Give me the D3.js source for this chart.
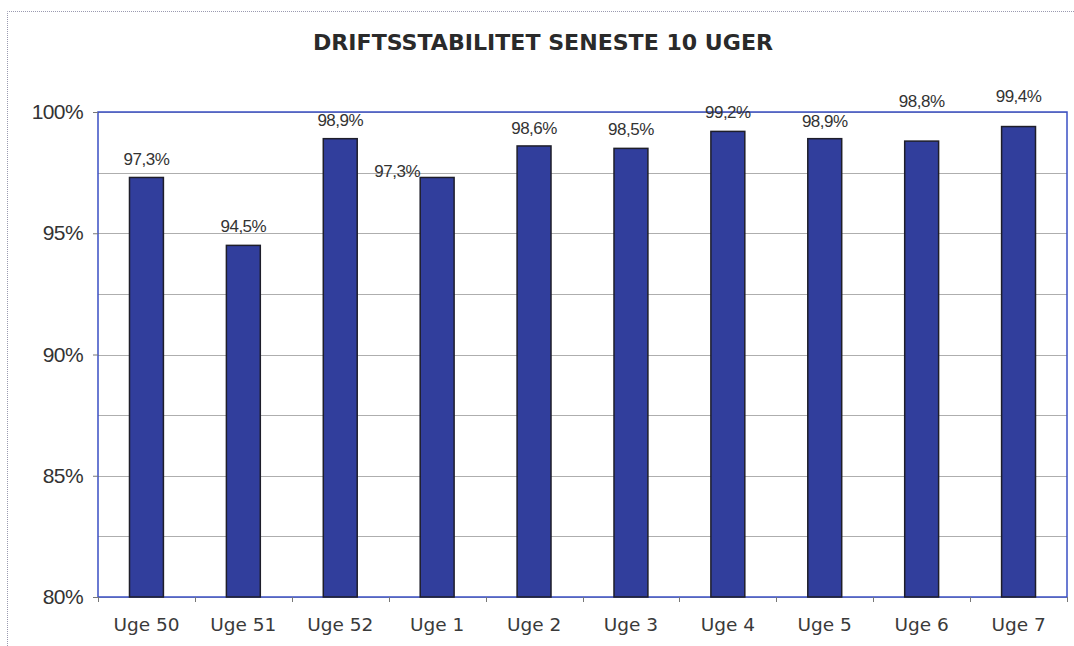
<!DOCTYPE html>
<html>
<head>
<meta charset="utf-8">
<script src="https://cdn.jsdelivr.net/npm/d3@7"></script>
<style>
  body { margin: 0; background: #fff; }
  svg { display: block; }
</style>
</head>
<body>
<div id="chart-area"></div>
<script>
// data
const weeks = ["Uge 50", "Uge 51", "Uge 52", "Uge 1", "Uge 2", "Uge 3", "Uge 4", "Uge 5", "Uge 6", "Uge 7"];
const stability = [97.3, 94.5, 98.9, 97.3, 98.6, 98.5, 99.2, 98.9, 98.8, 99.4];
const yTicks = [80, 85, 90, 95, 100];
const gridValues = [80, 82.5, 85, 87.5, 90, 92.5, 95, 97.5, 100];
const title = "DRIFTSSTABILITET SENESTE 10 UGER";

// label nudges (the labels were dragged around in the original sheet)
const labelShift = [[0, -12], [0, -13], [0, -13], [-40, 0], [0, -12], [0, -13], [0, -13], [0, -12], [0, -34], [0, -25]];

const svgWidth = 1074, svgHeight = 646;
const plot = {left: 98, right: 1067, top: 112, bottom: 597};

const svg = d3.select("#chart-area")
    .append("svg")
    .attr("width", svgWidth)
    .attr("height", svgHeight);

// danish number format
const da = d3.formatLocale({decimal: ",", thousands: ".", grouping: [3], currency: ["", " kr."]});
const fmtLabel = function(v){ return da.format(".1f")(v) + "%"; };

// scales
const xScale = d3.scaleBand()
    .domain(weeks)
    .range([plot.left, plot.right])
    .paddingInner(0.65)
    .paddingOuter(0.325);
const yScale = d3.scaleLinear()
    .domain([80, 100])
    .range([plot.bottom, plot.top]);

// outer chart frame (dotted)
svg.append("path")
    .attr("d", "M7.5," + svgHeight + "V11.5H" + svgWidth)
    .attr("fill", "none")
    .attr("stroke", "#9a9ab0")
    .attr("stroke-width", 1)
    .attr("stroke-dasharray", "1,1");

// title
svg.append("text")
    .attr("x", 543)
    .attr("y", 50)
    .attr("text-anchor", "middle")
    .attr("font-family", "'DejaVu Sans', Verdana, sans-serif")
    .attr("font-weight", "bold")
    .attr("font-size", "22px")
    .attr("fill", "#2a2a2a")
    .attr("textLength", 460)
    .attr("lengthAdjust", "spacingAndGlyphs")
    .text(title);

// gridlines
svg.append("g")
    .selectAll("line")
    .data(gridValues)
    .enter()
    .append("line")
    .attr("x1", plot.left)
    .attr("x2", plot.right)
    .attr("y1", function(d){ return Math.round(yScale(d)) + 0.5; })
    .attr("y2", function(d){ return Math.round(yScale(d)) + 0.5; })
    .attr("stroke", "#999")
    .attr("stroke-width", 0.8);

// plot border
svg.append("rect")
    .attr("x", plot.left)
    .attr("y", plot.top)
    .attr("width", plot.right - plot.left)
    .attr("height", plot.bottom - plot.top)
    .attr("fill", "none")
    .attr("stroke", "#3a4fc4")
    .attr("stroke-width", 1.5);

// y axis
const yAxisCall = d3.axisLeft(yScale)
    .tickValues(yTicks)
    .tickSize(5)
    .tickPadding(10)
    .tickFormat(function(d){ return d + "%"; });
const yAxis = svg.append("g")
    .attr("class", "y-axis")
    .attr("transform", "translate(" + plot.left + ",0)")
    .call(yAxisCall);
yAxis.select(".domain").remove();
yAxis.selectAll("line").attr("stroke", "#777");
yAxis.selectAll("text")
    .attr("font-family", "'Liberation Sans', Arial, sans-serif")
    .attr("font-size", "21px")
    .attr("letter-spacing", "-0.6px")
    .attr("fill", "#333");

// x axis: ticks between categories
const bounds = weeks.map(function(w, i){ return plot.left + i * xScale.step(); }).concat([plot.right]);
svg.append("g")
    .selectAll("line")
    .data(bounds)
    .enter()
    .append("line")
    .attr("x1", function(d){ return Math.round(d) + 0.5; })
    .attr("x2", function(d){ return Math.round(d) + 0.5; })
    .attr("y1", plot.bottom)
    .attr("y2", plot.bottom + 5)
    .attr("stroke", "#777");

svg.append("g")
    .selectAll("text")
    .data(weeks)
    .enter()
    .append("text")
    .attr("x", function(d){ return xScale(d) + xScale.bandwidth() / 2; })
    .attr("y", 631)
    .attr("text-anchor", "middle")
    .attr("font-family", "'DejaVu Sans', Verdana, sans-serif")
    .attr("font-size", "18.5px")
    .attr("fill", "#3a3a3a")
    .text(function(d){ return d; });

// bars
svg.append("g")
    .selectAll("rect")
    .data(stability)
    .enter()
    .append("rect")
    .attr("x", function(d, i){ return xScale(weeks[i]); })
    .attr("y", function(d){ return yScale(d); })
    .attr("width", xScale.bandwidth())
    .attr("height", function(d){ return plot.bottom - yScale(d); })
    .attr("fill", "#313e9c")
    .attr("stroke", "#1e1e2a")
    .attr("stroke-width", 1.5);

// value labels
svg.append("g")
    .selectAll("text")
    .data(stability)
    .enter()
    .append("text")
    .attr("x", function(d, i){ return xScale(weeks[i]) + xScale.bandwidth() / 2 + labelShift[i][0]; })
    .attr("y", function(d, i){ return yScale(d) + labelShift[i][1]; })
    .attr("text-anchor", "middle")
    .attr("font-family", "'Liberation Sans', Arial, sans-serif")
    .attr("font-size", "17px")
    .attr("letter-spacing", "-0.5px")
    .attr("fill", "#333")
    .text(function(d){ return fmtLabel(d); });
</script>
</body>
</html>
